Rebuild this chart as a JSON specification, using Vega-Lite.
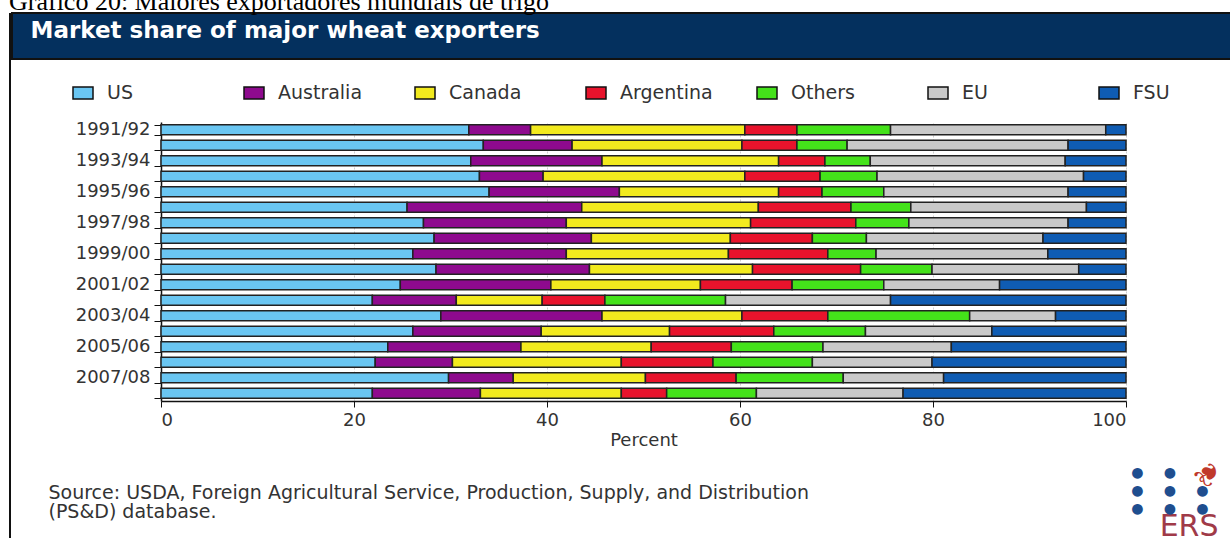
{
  "$schema": "https://vega.github.io/schema/vega-lite/v6.json",
  "background": "white",
  "padding": {"left": 9, "top": -11, "right": 0, "bottom": 0},
  "title": {"text": "Gráfico 20: Maiores exportadores mundiais de trigo", "font": "Liberation Serif", "fontSize": 26, "fontWeight": "normal", "color": "black", "anchor": "start", "frame": "bounds", "offset": -3},
  "spacing": 0,
  "config": {"view": {"stroke": null}},
  "resolve": {"scale": {"color": "independent"}, "legend": {"color": "independent"}},
  "hconcat": [
    {
      "width": 2, "height": 540,
      "data": {"values": []},
      "mark": "point",
      "view": {"fill": "#111", "stroke": null}
    },
    {
      "spacing": 0,
      "resolve": {"scale": {"color": "independent"}, "legend": {"color": "independent"}},
      "vconcat": [
        {
          "width": 1221, "height": 46,
          "data": {"values": [{"v": 0}]},
          "mark": {"type": "point", "opacity": 0},
          "encoding": {
            "x": {"field": "v", "type": "quantitative",
              "axis": {"orient": "top", "labels": false, "ticks": false, "domain": false, "grid": false, "minExtent": 0, "maxExtent": 0,
                "title": "Market share of major wheat exporters", "titleX": 18, "titleY": 24, "titleAlign": "left", "titleAnchor": null, "titleBaseline": "alphabetic",
                "titleFont": "DejaVu Sans", "titleFontWeight": "bold", "titleFontSize": 23, "titleColor": "white"}}
          },
          "view": {"fill": "#04305e", "stroke": "#111", "strokeWidth": 2}
        },
        {
          "spacing": 0,
          "resolve": {"scale": {"color": "independent"}, "legend": {"color": "independent"}},
          "hconcat": [
            {
              "width": 1, "height": 1,
              "data": {"values": []},
              "mark": "point"
            },
            {
              "width": 965, "height": 279,
              "data": {"values": [
                {"y":"1991/92","c":"US","v":31.9},{"y":"1991/92","c":"Australia","v":6.4},{"y":"1991/92","c":"Canada","v":22.2},{"y":"1991/92","c":"Argentina","v":5.4},{"y":"1991/92","c":"Others","v":9.7},{"y":"1991/92","c":"EU","v":22.3},{"y":"1991/92","c":"FSU","v":2.1},
                {"y":"1992/93","c":"US","v":33.4},{"y":"1992/93","c":"Australia","v":9.2},{"y":"1992/93","c":"Canada","v":17.6},{"y":"1992/93","c":"Argentina","v":5.7},{"y":"1992/93","c":"Others","v":5.2},{"y":"1992/93","c":"EU","v":22.9},{"y":"1992/93","c":"FSU","v":6.0},
                {"y":"1993/94","c":"US","v":32.1},{"y":"1993/94","c":"Australia","v":13.6},{"y":"1993/94","c":"Canada","v":18.3},{"y":"1993/94","c":"Argentina","v":4.8},{"y":"1993/94","c":"Others","v":4.7},{"y":"1993/94","c":"EU","v":20.2},{"y":"1993/94","c":"FSU","v":6.3},
                {"y":"1994/95","c":"US","v":33.0},{"y":"1994/95","c":"Australia","v":6.6},{"y":"1994/95","c":"Canada","v":20.9},{"y":"1994/95","c":"Argentina","v":7.8},{"y":"1994/95","c":"Others","v":5.9},{"y":"1994/95","c":"EU","v":21.4},{"y":"1994/95","c":"FSU","v":4.4},
                {"y":"1995/96","c":"US","v":34.0},{"y":"1995/96","c":"Australia","v":13.5},{"y":"1995/96","c":"Canada","v":16.5},{"y":"1995/96","c":"Argentina","v":4.5},{"y":"1995/96","c":"Others","v":6.4},{"y":"1995/96","c":"EU","v":19.1},{"y":"1995/96","c":"FSU","v":6.0},
                {"y":"1996/97","c":"US","v":25.5},{"y":"1996/97","c":"Australia","v":18.1},{"y":"1996/97","c":"Canada","v":18.3},{"y":"1996/97","c":"Argentina","v":9.6},{"y":"1996/97","c":"Others","v":6.2},{"y":"1996/97","c":"EU","v":18.2},{"y":"1996/97","c":"FSU","v":4.1},
                {"y":"1997/98","c":"US","v":27.2},{"y":"1997/98","c":"Australia","v":14.8},{"y":"1997/98","c":"Canada","v":19.1},{"y":"1997/98","c":"Argentina","v":10.9},{"y":"1997/98","c":"Others","v":5.5},{"y":"1997/98","c":"EU","v":16.5},{"y":"1997/98","c":"FSU","v":6.0},
                {"y":"1998/99","c":"US","v":28.3},{"y":"1998/99","c":"Australia","v":16.3},{"y":"1998/99","c":"Canada","v":14.4},{"y":"1998/99","c":"Argentina","v":8.5},{"y":"1998/99","c":"Others","v":5.6},{"y":"1998/99","c":"EU","v":18.3},{"y":"1998/99","c":"FSU","v":8.6},
                {"y":"1999/00","c":"US","v":26.1},{"y":"1999/00","c":"Australia","v":15.9},{"y":"1999/00","c":"Canada","v":16.8},{"y":"1999/00","c":"Argentina","v":10.3},{"y":"1999/00","c":"Others","v":5.0},{"y":"1999/00","c":"EU","v":17.8},{"y":"1999/00","c":"FSU","v":8.1},
                {"y":"2000/01","c":"US","v":28.5},{"y":"2000/01","c":"Australia","v":15.9},{"y":"2000/01","c":"Canada","v":16.9},{"y":"2000/01","c":"Argentina","v":11.2},{"y":"2000/01","c":"Others","v":7.4},{"y":"2000/01","c":"EU","v":15.2},{"y":"2000/01","c":"FSU","v":4.9},
                {"y":"2001/02","c":"US","v":24.8},{"y":"2001/02","c":"Australia","v":15.6},{"y":"2001/02","c":"Canada","v":15.5},{"y":"2001/02","c":"Argentina","v":9.5},{"y":"2001/02","c":"Others","v":9.5},{"y":"2001/02","c":"EU","v":12.0},{"y":"2001/02","c":"FSU","v":13.1},
                {"y":"2002/03","c":"US","v":21.9},{"y":"2002/03","c":"Australia","v":8.7},{"y":"2002/03","c":"Canada","v":8.9},{"y":"2002/03","c":"Argentina","v":6.5},{"y":"2002/03","c":"Others","v":12.5},{"y":"2002/03","c":"EU","v":17.1},{"y":"2002/03","c":"FSU","v":24.4},
                {"y":"2003/04","c":"US","v":29.0},{"y":"2003/04","c":"Australia","v":16.7},{"y":"2003/04","c":"Canada","v":14.5},{"y":"2003/04","c":"Argentina","v":8.9},{"y":"2003/04","c":"Others","v":14.7},{"y":"2003/04","c":"EU","v":8.9},{"y":"2003/04","c":"FSU","v":7.3},
                {"y":"2004/05","c":"US","v":26.1},{"y":"2004/05","c":"Australia","v":13.3},{"y":"2004/05","c":"Canada","v":13.3},{"y":"2004/05","c":"Argentina","v":10.8},{"y":"2004/05","c":"Others","v":9.5},{"y":"2004/05","c":"EU","v":13.1},{"y":"2004/05","c":"FSU","v":13.9},
                {"y":"2005/06","c":"US","v":23.5},{"y":"2005/06","c":"Australia","v":13.8},{"y":"2005/06","c":"Canada","v":13.5},{"y":"2005/06","c":"Argentina","v":8.3},{"y":"2005/06","c":"Others","v":9.5},{"y":"2005/06","c":"EU","v":13.3},{"y":"2005/06","c":"FSU","v":18.1},
                {"y":"2006/07","c":"US","v":22.2},{"y":"2006/07","c":"Australia","v":8.0},{"y":"2006/07","c":"Canada","v":17.5},{"y":"2006/07","c":"Argentina","v":9.5},{"y":"2006/07","c":"Others","v":10.3},{"y":"2006/07","c":"EU","v":12.4},{"y":"2006/07","c":"FSU","v":20.1},
                {"y":"2007/08","c":"US","v":29.8},{"y":"2007/08","c":"Australia","v":6.7},{"y":"2007/08","c":"Canada","v":13.7},{"y":"2007/08","c":"Argentina","v":9.4},{"y":"2007/08","c":"Others","v":11.1},{"y":"2007/08","c":"EU","v":10.4},{"y":"2007/08","c":"FSU","v":18.9},
                {"y":"2008/09","c":"US","v":21.9},{"y":"2008/09","c":"Australia","v":11.2},{"y":"2008/09","c":"Canada","v":14.6},{"y":"2008/09","c":"Argentina","v":4.7},{"y":"2008/09","c":"Others","v":9.3},{"y":"2008/09","c":"EU","v":15.2},{"y":"2008/09","c":"FSU","v":23.1}
              ]},
              "transform": [{"calculate": "indexof(['US','Australia','Canada','Argentina','Others','EU','FSU'], datum.c)", "as": "o"}],
              "layer": [
                {
                  "mark": {"type": "bar", "stroke": "#222", "strokeWidth": 1.5},
                  "encoding": {
                    "y": {"field": "y", "type": "nominal", "sort": null,
                      "scale": {"paddingInner": 0.35, "paddingOuter": 0.175},
                      "axis": {"title": null, "domainColor": "#111", "domainWidth": 1.5, "tickColor": "#111", "tickSize": 7, "tickWidth": 1, "tickBand": "extent",
                        "labelExpr": "parseInt(substring(datum.value,0,4)) % 2 == 1 ? datum.value : ''",
                        "labelFont": "DejaVu Sans", "labelFontSize": 18, "labelColor": "#333", "labelPadding": 4, "minExtent": 148, "maxExtent": 148}},
                    "x": {"field": "v", "type": "quantitative", "stack": "zero",
                      "scale": {"domain": [0, 100], "nice": false},
                      "axis": {"title": "Percent", "values": [0, 20, 40, 60, 80, 100], "grid": true, "gridColor": "#cfcfcf", "gridDash": [2, 2],
                        "domainColor": "#111", "domainWidth": 1.5, "tickColor": "#111", "tickSize": 6,
                        "labelFont": "DejaVu Sans", "labelFontSize": 18, "labelColor": "#333", "labelPadding": 4,
                        "titleFont": "DejaVu Sans", "titleFontSize": 18, "titleFontWeight": "normal", "titleColor": "#333", "titlePadding": 2}},
                    "color": {"field": "c", "type": "nominal",
                      "scale": {"domain": ["US", "Australia", "Canada", "Argentina", "Others", "EU", "FSU"],
                                "range": ["#6ac6f2", "#8e0a8e", "#f2ea1e", "#e8132c", "#44e21a", "#c9c9c9", "#0f5cb3"]},
                      "legend": {"title": null, "orient": "none", "legendX": -89, "legendY": -40, "direction": "horizontal", "columns": 7, "gridAlign": "all", "columnPadding": 41,
                        "symbolType": "M-1,-0.6H1V0.6H-1Z", "symbolSize": 400, "symbolStrokeColor": "#111", "symbolStrokeWidth": 1.5, "symbolOpacity": 1,
                        "labelFont": "DejaVu Sans", "labelFontSize": 19, "labelColor": "#333", "labelOffset": 13, "padding": 0}},
                    "order": {"field": "o", "type": "quantitative"}
                  }
                },
                {
                  "mark": {"type": "point", "opacity": 0},
                  "encoding": {
                    "x": {"field": "v", "type": "quantitative",
                      "axis": {"orient": "top", "labels": false, "ticks": false, "domain": false, "grid": false, "minExtent": 62, "maxExtent": 62,
                        "title": ["Source: USDA, Foreign Agricultural Service, Production, Supply, and Distribution", "(PS&D) database."],
                        "titleX": -113, "titleY": 376, "titleAlign": "left", "titleAnchor": null, "titleBaseline": "alphabetic",
                        "titleFont": "DejaVu Sans", "titleFontSize": 19, "titleFontWeight": "normal", "titleColor": "#333", "titleLineHeight": 19}},
                    "y": {"field": "y", "type": "nominal",
                      "axis": {"orient": "right", "labels": false, "ticks": false, "domain": false, "grid": false, "minExtent": 0, "maxExtent": 0,
                        "title": ["●\u00a0\u00a0●", "●\u00a0\u00a0●\u00a0\u00a0●", "●\u00a0\u00a0●\u00a0\u00a0●"], "titleX": 5.6, "titleY": 355, "titleAngle": 0, "titleAlign": "left", "titleBaseline": "alphabetic",
                        "titleFont": "DejaVu Sans Mono", "titleFontSize": 18, "titleFontWeight": "normal", "titleColor": "#1f4e8f", "titleLineHeight": 18}}
                  }
                },
                {
                  "mark": {"type": "point", "opacity": 0},
                  "encoding": {
                    "x": {"field": "v", "type": "quantitative",
                      "axis": {"orient": "bottom", "labels": false, "ticks": false, "domain": false, "grid": false, "minExtent": 0, "maxExtent": 0,
                        "title": "ERS", "titleX": 1057, "titleY": 134, "titleAlign": "right", "titleAnchor": null, "titleBaseline": "alphabetic",
                        "titleFont": "DejaVu Sans", "titleFontSize": 30, "titleFontWeight": "normal", "titleColor": "#a03a48"}},
                    "y": {"field": "y", "type": "nominal",
                      "axis": {"orient": "right", "labels": false, "ticks": false, "domain": false, "grid": false, "minExtent": 0, "maxExtent": 0,
                        "title": "❦", "titleX": 82, "titleY": 350, "titleAngle": -135, "titleAlign": "center", "titleBaseline": "middle",
                        "titleFont": "DejaVu Sans", "titleFontSize": 30, "titleFontWeight": "normal", "titleColor": "#c0392b"}}
                  }
                }
              ],
              "resolve": {"scale": {"x": "independent", "y": "independent"}}
            }
          ]
        }
      ]
    }
  ]
}
